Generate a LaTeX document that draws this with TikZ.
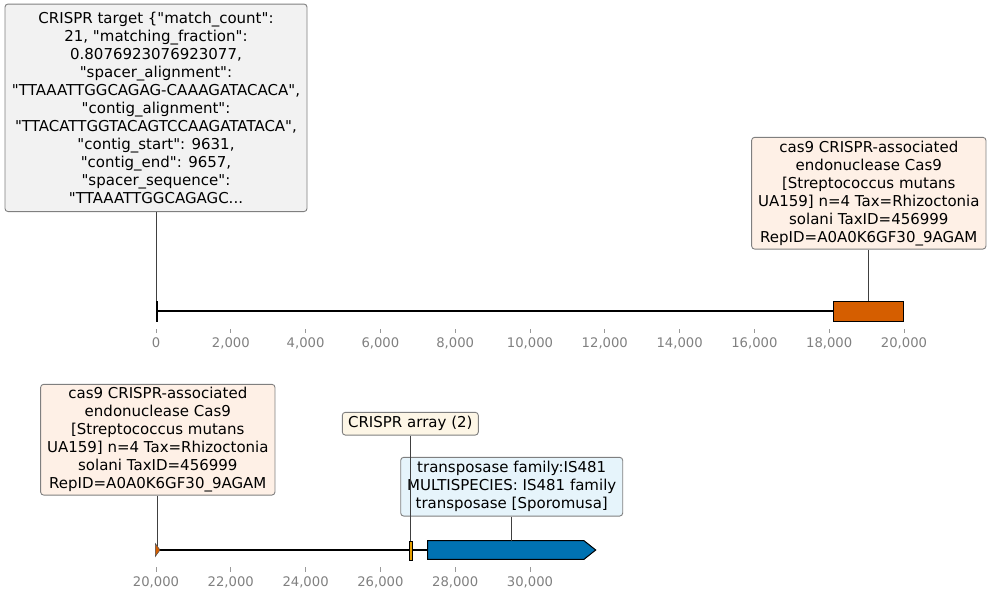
\documentclass[tikz,border=0pt]{standalone}
\usepackage{fontspec}
\newfontfamily\dvs{DejaVu Sans}
\definecolor{cas}{HTML}{D55E00}
\definecolor{casl}{HTML}{FEF0E6}
\definecolor{arr}{HTML}{E69F00}
\definecolor{arrl}{HTML}{FDF6E6}
\definecolor{tra}{HTML}{0072B2}
\definecolor{tral}{HTML}{E6F4FB}
\definecolor{tgt}{HTML}{F2F2F2}
\definecolor{edgec}{HTML}{7F7F7F}
\definecolor{ticklab}{HTML}{808080}
\begin{document}
\begin{tikzpicture}[x=1pt,y=-1pt,
  lbl/.style={draw=edgec, line width=0.9pt, rounded corners=3pt, inner sep=0pt, align=center,
    font=\dvs\fontsize{15}{18}\selectfont, text=black},
  conn/.style={draw=black!75, line width=0.8pt},
  backbone/.style={line width=1.8pt, draw=black},
  feat/.style={draw=black, line width=1pt, inner sep=0pt},
  tickmark/.style={draw=black!40, line width=0.8pt},
  ticklbl/.style={text=ticklab, font=\dvs\fontsize{13.2}{15}\selectfont, inner sep=0pt}]
\useasboundingbox (0,0) rectangle (991,600);

% ---------------- top track ----------------
\coordinate (topstart) at (156,311);
\coordinate (topend) at (904,311);
\draw[backbone] (topstart) -- (topend);

\node[feat, fill=tgt, minimum width=1, minimum height=20, anchor=north] (tgtfeat) at (156.6,301) {};
\node[feat, fill=cas, minimum width=70.6, minimum height=20, anchor=north west] (castopfeat) at (832.7,301) {};

\node[lbl, fill=tgt, minimum width=302, minimum height=207.5] (tgtlbl) at (156,107.8)
 {CRISPR target \{"match\_count":\\
  21, "matching\_fraction":\\
  0.8076923076923077,\\
  "spacer\_alignment":\\
  "TTAAATTGGCAGAG-CAAAGATACACA",\\
  "contig\_alignment":\\
  "TTACATTGGTACAGTCCAAGATATACA",\\
  "contig\_start": 9631,\\
  "contig\_end": 9657,\\
  "spacer\_sequence":\\
  "TTAAATTGGCAGAGC...};
\node[lbl, fill=casl, minimum width=234.3, minimum height=111.7] (castoplbl) at (868.8,193.2)
 {cas9 CRISPR-associated\\
  endonuclease Cas9\\
  {[}Streptococcus mutans\\
  UA159] n=4 Tax=Rhizoctonia\\
  solani TaxID=456999\\
  RepID=A0A0K6GF30\_9AGAM};

\draw[conn] (tgtlbl.south) -- (tgtlbl.south |- tgtfeat.north);
\draw[conn] (castoplbl.south) -- (castoplbl.south |- castopfeat.north);

\foreach \i/\t in {0/0,1/{2,000},2/{4,000},3/{6,000},4/{8,000},5/{10,000},6/{12,000},7/{14,000},8/{16,000},9/{18,000},10/{20,000}} {
  \pgfmathsetmacro\xx{156+74.8*\i}
  \draw[tickmark] (\xx,329) -- (\xx,333);
  \node[ticklbl] at (\xx,343) {\t};
}

% ---------------- bottom track ----------------
\coordinate (botstart) at (157,550);
\coordinate (botend) at (590,550);
\draw[backbone] (botstart) -- (botend);

\draw[draw=black!70, line width=0.5pt, fill=cas] (155.3,543.5) -- (160,550) -- (155.3,556.5) -- cycle;
\coordinate (casbotfeat) at (158.3,546);
\node[feat, fill=arr, minimum width=3.3, minimum height=19.3, anchor=north west] (arrfeat) at (408.7,540.7) {};
\draw[feat, fill=tra] (427.7,540.7) -- (584,540.7) -- (595.7,550) -- (584,559.3) -- (427.7,559.3) -- cycle;
\coordinate (trafeat) at (511.7,540.7);

\node[lbl, fill=casl, minimum width=234.3, minimum height=110.7] (casbotlbl) at (157.8,439.7)
 {cas9 CRISPR-associated\\
  endonuclease Cas9\\
  {[}Streptococcus mutans\\
  UA159] n=4 Tax=Rhizoctonia\\
  solani TaxID=456999\\
  RepID=A0A0K6GF30\_9AGAM};
\node[lbl, fill=arrl, minimum width=136, minimum height=22.7] (arrlbl) at (410.3,423.7) {CRISPR array (2)};
\node[lbl, fill=tral, minimum width=222, minimum height=58.7] (tralbl) at (511.7,486.7)
 {transposase family:IS481\\
  MULTISPECIES: IS481 family\\
  transposase [Sporomusa]};

\draw[conn] (casbotlbl.south) -- (casbotlbl.south |- casbotfeat);
\draw[conn] (arrlbl.south) -- (arrlbl.south |- arrfeat.north);
\draw[conn] (tralbl.south) -- (tralbl.south |- trafeat);

\foreach \i/\t in {0/{20,000},1/{22,000},2/{24,000},3/{26,000},4/{28,000},5/{30,000}} {
  \pgfmathsetmacro\xx{156+74.8*\i}
  \draw[tickmark] (\xx,567) -- (\xx,572);
  \node[ticklbl] at (\xx,582) {\t};
}
\end{tikzpicture}
\end{document}
